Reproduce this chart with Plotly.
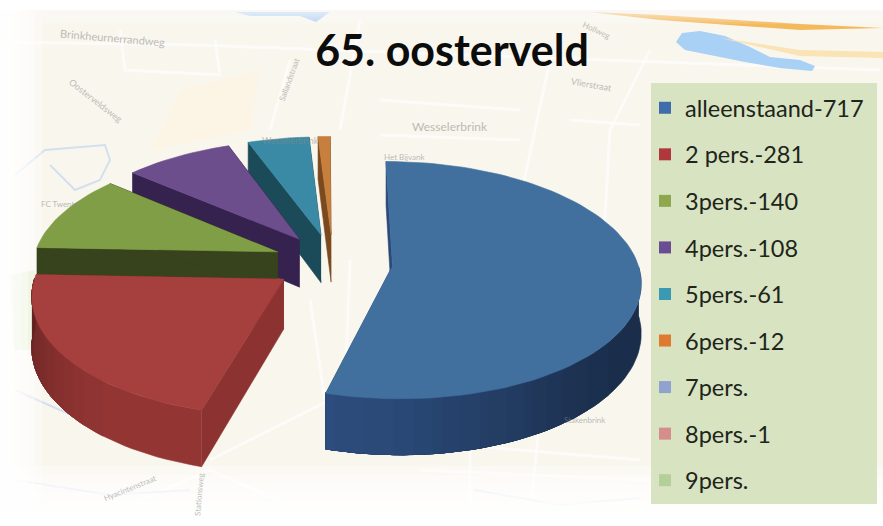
import math
import plotly.graph_objects as go

# ---- chart data -------------------------------------------------
title = "65. oosterveld"
labels = ["alleenstaand-717", "2 pers.-281", "3pers.-140", "4pers.-108", "5pers.-61",
          "6pers.-12", "7pers.", "8pers.-1", "9pers."]
values = [717, 281, 140, 108, 61, 12, 0, 1, 0]
top_colors = ["#41709f", "#a5403e", "#7f9e45", "#6c4e8c", "#3a8aa6", "#c67f3c", "#8fa2d0", "#d08a8a", "#b5cf9a"]
wall_colors = ["#2b4a78", "#8c3331", "#36431c", "#36224f", "#1b4b58", "#7a4a1e", "#5a6a90", "#905a5a", "#7a9060"]
legend_colors = ["#3f6cab", "#b0383c", "#8fa84f", "#694c93", "#3b99b4", "#de7b30", "#8fa2d0", "#d68d8d", "#b5cf9a"]

# ---- projection of the exploded, tilted pie ---------------------
CX, CY, RX, RY, K, DEPTH, PULL = 333, 262, 245, 116, 0.12, 49, 0.244
MIN_ANGLE = 1.0  # slivers thinner than this do not show in the picture


def project(u, v, z=0.0):
    s = 1 / (1 - K * v)
    return CX + RX * u * s, CY + RY * v * s + DEPTH * z * s


def shade(hex_color, f):
    rgb = [int(hex_color[i:i + 2], 16) for i in (1, 3, 5)]
    return "rgb(%d,%d,%d)" % tuple(min(255, int(c * f)) for c in rgb)


def poly(points, color):
    return go.Scatter(x=[p[0] for p in points], y=[p[1] for p in points], mode="lines", fill="toself",
                      fillcolor=color, line=dict(color=color, width=0.6), hoverinfo="skip", showlegend=False)


def level(t):
    c = max(0.0, math.cos(t - math.radians(205)))
    f = 0.62 + 0.44 * c * c
    return round(f * 40) / 40


fig = go.Figure()
total = sum(values)
starts, a = [], 0.0
for val in values:
    starts.append(a)
    a += val / total * 360

order = [i for i in range(len(values) - 1, -1, -1) if values[i] / total * 360 >= MIN_ANGLE]
for i in order:
    a0 = starts[i]
    a1 = a0 + values[i] / total * 360
    mid = math.radians((a0 + a1) / 2)
    ou, ov = PULL * math.sin(mid), -PULL * math.cos(mid)
    n = max(2, int((a1 - a0) / 2.0))
    ang = [math.radians(a0 + (a1 - a0) * j / n) for j in range(n + 1)]
    rim = [(ou + math.sin(t), ov - math.cos(t)) for t in ang]
    for end in (rim[0], rim[-1]):
        fig.add_trace(poly([project(ou, ov), project(*end), project(*end, 1), project(ou, ov, 1)], wall_colors[i]))
    # outer wall, front half only: each shading run is painted through to the end of
    # the slice and overpainted by the next one, which leaves no seams
    front = [j for j in range(n + 1) if -math.cos(ang[j]) >= -0.02]
    last_level = None
    for j in front[:-1]:
        lv = level(ang[j])
        if lv == last_level:
            continue
        last_level = lv
        run = rim[j:front[-1] + 1]
        pts = [project(*p) for p in run] + [project(*p, 1) for p in reversed(run)]
        fig.add_trace(poly(pts, shade(wall_colors[i], lv)))
    fig.add_trace(poly([project(ou, ov)] + [project(*p) for p in rim], top_colors[i]))

for lab, col in zip(labels, legend_colors):
    fig.add_trace(go.Scatter(x=[None], y=[None], mode="markers", name=lab, legendgroup=lab,
                             marker=dict(symbol="square", size=12, color=col)))

# ---- map backdrop (decorative) ----------------------------------
shapes = [dict(type="rect", x0=0, x1=883, y0=10, y1=512, fillcolor="#f9f6ee", line_width=0, layer="below")]


def path(pts, color, width, fill=None, opacity=1.0):
    d = "M" + " L".join(f"{x},{y}" for x, y in pts)
    if fill:
        d += " Z"
    shapes.append(dict(type="path", path=d, line=dict(color=color, width=width), fillcolor=fill,
                       opacity=opacity, layer="below"))


path([(150, 150), (180, 90), (260, 70), (250, 130)], "#fcf5e6", 0, "#fcf5e6")
path([(10, 275), (35, 270), (36, 350), (14, 350)], "#dcebc4", 0, "#dcebc4")
path([(325, 395), (345, 355), (350, 400)], "#dcebc4", 0, "#dcebc4")
roads = [
    [(0, 42), (200, 45), (330, 50), (880, 70)], [(550, 60), (520, 200), (510, 300)],
    [(340, 130), (360, 20)], [(270, 130), (290, 60)], [(120, 30), (125, 70), (220, 75), (215, 40)],
    [(210, 460), (330, 400), (420, 370)], [(130, 505), (210, 470), (300, 510)],
    [(650, 50), (610, 130), (600, 300)], [(350, 260), (345, 390)], [(310, 300), (325, 400)],
    [(470, 420), (470, 510)], [(540, 420), (530, 510)], [(400, 440), (640, 460)],
    [(420, 470), (650, 480)], [(380, 100), (520, 110)], [(380, 135), (520, 140)], [(570, 120), (640, 125)],
]
for r in roads:
    path(r, "#ffffff", 3, opacity=0.65)
for r in [[(15, 175), (45, 150), (105, 145), (110, 160), (100, 180), (75, 190), (50, 165)],
          [(15, 390), (60, 410), (100, 425)], [(15, 480), (110, 495), (190, 490)],
          [(475, 490), (560, 505), (640, 498)]]:
    path(r, "#d4e0ee", 2)
path([(235, 12), (330, 12), (316, 22), (300, 16), (250, 16)], "#b5d3f2", 0, "#b5d3f2")
path([(676, 42), (682, 33), (700, 31), (725, 36), (750, 47), (770, 57), (800, 60), (815, 66), (812, 71),
      (780, 68), (745, 62), (710, 55), (685, 50)], "#a9d0f5", 0, "#a9d0f5")
path([(590, 12), (660, 15), (800, 24), (883, 28), (800, 30), (660, 20)], "#f4b95c", 0, "#f4b95c")
path([(720, 38), (800, 50), (883, 52), (883, 58), (800, 56)], "#fae3b5", 0, "#fae3b5")
# soft white fade toward the image edges
for k in range(6):
    op = 0.34
    shapes.append(dict(type="rect", x0=0, x1=42 - 7 * k, y0=0, y1=526, fillcolor="#ffffff", opacity=op,
                       line_width=0, layer="below"))
    shapes.append(dict(type="rect", x0=0, x1=883, y0=526 - 60 + 9 * k, y1=526, fillcolor="#ffffff", opacity=op,
                       line_width=0, layer="below"))
    shapes.append(dict(type="rect", x0=0, x1=883, y0=10, y1=24 - 2 * k, fillcolor="#ffffff", opacity=0.12,
                       line_width=0, layer="below"))
# legend panel
shapes.append(dict(type="rect", x0=651, x1=877, y0=83, y1=504, fillcolor="#d8e3c1", line_width=0, layer="below"))

map_text = [
    ("Brinkheurnerrandweg", 112, 37, 11, 5), ("Oosterveldsweg", 96, 100, 9, 38), ("Wesselerbrink", 450, 126, 12, 0),
    ("Het Bijvank", 405, 157, 8, 0), ("FC Twente", 60, 204, 8, 0), ("Vlierstraat", 592, 84, 9, 10),
    ("Hollweg", 596, 30, 8, 25), ("Hyacintenstraat", 130, 488, 8, -22), ("Stationsweg", 199, 495, 8, -85),
    ("Sallandstraat", 289, 80, 8, -70), ("Wesselerbrink", 290, 140, 9, 0), ("Stakenbrink", 585, 420, 8, 0),
]
annotations = [dict(x=x, y=y, text=t, showarrow=False, textangle=ang, opacity=0.55,
                    font=dict(family="Lato", size=s, color="#8a8a88")) for t, x, y, s, ang in map_text]

fig.update_layout(
    width=883, height=526, margin=dict(l=0, r=0, t=0, b=0),
    paper_bgcolor="#ffffff", plot_bgcolor="rgba(0,0,0,0)",
    xaxis=dict(range=[0, 883], visible=False, fixedrange=True),
    yaxis=dict(range=[526, 0], visible=False, fixedrange=True),
    shapes=shapes, annotations=annotations,
    title=dict(text="<b>%s</b>" % title, x=452 / 883, y=1 - 51 / 526, xanchor="center", yanchor="middle",
               font=dict(family="Lato", size=43, color="#0c0c0c")),
    legend=dict(x=645 / 883, y=1 - 86 / 526, xanchor="left", yanchor="top", bgcolor="rgba(0,0,0,0)",
                font=dict(family="Lato", size=23.5, color="#20241a"), itemwidth=30, tracegroupgap=13,
                traceorder="grouped"),
)
fig.write_html("out.html", config=dict(displayModeBar=False),
               post_script="document.body.style.margin='0';document.documentElement.style.overflow='hidden';")
